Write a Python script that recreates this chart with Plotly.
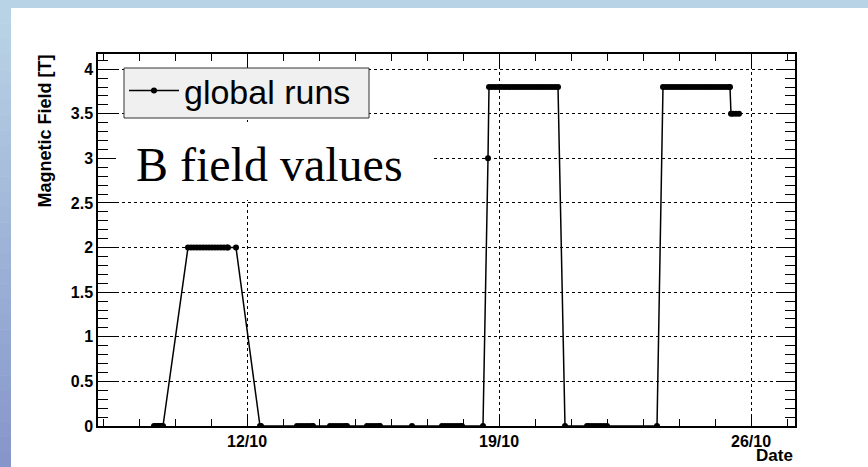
import plotly.graph_objects as go

# ---------------- data ----------------
run_times = [
    "2008-10-09 10:00", "2008-10-09 11:00", "2008-10-09 12:00", "2008-10-09 13:00",
    "2008-10-09 14:00", "2008-10-09 15:00", "2008-10-09 16:00",
    "2008-10-10 08:40", "2008-10-10 10:40", "2008-10-10 12:40", "2008-10-10 14:40",
    "2008-10-10 16:40", "2008-10-10 18:40", "2008-10-10 20:40", "2008-10-10 22:40",
    "2008-10-11 00:40", "2008-10-11 02:40", "2008-10-11 04:40", "2008-10-11 06:40",
    "2008-10-11 08:40", "2008-10-11 10:40", "2008-10-11 11:20", "2008-10-11 16:40",
    "2008-10-12 08:40", "2008-10-12 09:20",
    "2008-10-13 09:20", "2008-10-13 11:20", "2008-10-13 13:20", "2008-10-13 15:20",
    "2008-10-13 17:20", "2008-10-13 19:20", "2008-10-13 20:00",
    "2008-10-14 07:20", "2008-10-14 09:20", "2008-10-14 11:20", "2008-10-14 13:20",
    "2008-10-14 15:20", "2008-10-14 17:20", "2008-10-14 18:40",
    "2008-10-15 08:00", "2008-10-15 10:00", "2008-10-15 12:00", "2008-10-15 14:00",
    "2008-10-15 16:00", "2008-10-15 16:40",
    "2008-10-16 14:00",
    "2008-10-17 10:00", "2008-10-17 12:00", "2008-10-17 14:00", "2008-10-17 16:00",
    "2008-10-17 18:00", "2008-10-17 20:00", "2008-10-17 22:00", "2008-10-17 23:20",
    "2008-10-18 13:20", "2008-10-18 16:40",
    "2008-10-18 17:20", "2008-10-18 19:20", "2008-10-18 21:20", "2008-10-18 23:20",
    "2008-10-19 01:20", "2008-10-19 03:20", "2008-10-19 05:20", "2008-10-19 07:20",
    "2008-10-19 09:20", "2008-10-19 11:20", "2008-10-19 13:20", "2008-10-19 15:20",
    "2008-10-19 17:20", "2008-10-19 19:20", "2008-10-19 21:20", "2008-10-19 23:20",
    "2008-10-20 01:20", "2008-10-20 03:20", "2008-10-20 05:20", "2008-10-20 07:20",
    "2008-10-20 09:20", "2008-10-20 11:20", "2008-10-20 13:20", "2008-10-20 15:20",
    "2008-10-20 20:00",
    "2008-10-21 10:40", "2008-10-21 12:00", "2008-10-21 14:00", "2008-10-21 16:00",
    "2008-10-21 18:00", "2008-10-21 20:00", "2008-10-21 22:00", "2008-10-22 00:00",
    "2008-10-23 09:20",
    "2008-10-23 13:20", "2008-10-23 15:20", "2008-10-23 17:20", "2008-10-23 19:20",
    "2008-10-23 21:20", "2008-10-23 23:20", "2008-10-24 01:20", "2008-10-24 03:20",
    "2008-10-24 05:20", "2008-10-24 07:20", "2008-10-24 09:20", "2008-10-24 11:20",
    "2008-10-24 13:20", "2008-10-24 15:20", "2008-10-24 17:20", "2008-10-24 19:20",
    "2008-10-24 21:20", "2008-10-24 23:20", "2008-10-25 01:20", "2008-10-25 03:20",
    "2008-10-25 05:20", "2008-10-25 07:20", "2008-10-25 09:20", "2008-10-25 10:00",
    "2008-10-25 10:40", "2008-10-25 12:00", "2008-10-25 14:00", "2008-10-25 16:00",
]

field_tesla = [
    0, 0, 0, 0,
    0, 0, 0,
    2.0, 2.0, 2.0, 2.0,
    2.0, 2.0, 2.0, 2.0,
    2.0, 2.0, 2.0, 2.0,
    2.0, 2.0, 2.0, 2.0,
    0, 0,
    0, 0, 0, 0,
    0, 0, 0,
    0, 0, 0, 0,
    0, 0, 0,
    0, 0, 0, 0,
    0, 0,
    0,
    0, 0, 0, 0,
    0, 0, 0, 0,
    0, 3.0,
    3.8, 3.8, 3.8, 3.8,
    3.8, 3.8, 3.8, 3.8,
    3.8, 3.8, 3.8, 3.8,
    3.8, 3.8, 3.8, 3.8,
    3.8, 3.8, 3.8, 3.8,
    3.8, 3.8, 3.8, 3.8,
    0,
    0, 0, 0, 0,
    0, 0, 0, 0,
    0,
    3.8, 3.8, 3.8, 3.8,
    3.8, 3.8, 3.8, 3.8,
    3.8, 3.8, 3.8, 3.8,
    3.8, 3.8, 3.8, 3.8,
    3.8, 3.8, 3.8, 3.8,
    3.8, 3.8, 3.8, 3.8,
    3.5, 3.5, 3.5, 3.5,
]

series_name = "global runs"
x_tick_vals = ["2008-10-12", "2008-10-19", "2008-10-26"]
x_tick_text = ["12/10", "19/10", "26/10"]
x_range = ["2008-10-07 20:40", "2008-10-27 05:20"]
y_range = [0, 4.17]

# ---------------- layout geometry ----------------
W, H = 868, 467
L, R, T, B = 98, 795, 54, 426  # plot area in pixels


def px(x):
    return (x - L) / (R - L)


def py(y):
    return (B - y) / (B - T)


fig = go.Figure()
fig.add_trace(go.Scatter(
    x=run_times, y=field_tesla,
    name=series_name,
    mode="lines+markers",
    line=dict(color="black", width=1.5),
    marker=dict(color="black", size=6, symbol="circle"),
    showlegend=True,
))

shapes = []
# top blue band
shapes.append(dict(type="rect", xref="paper", yref="paper",
                   x0=px(0), x1=px(W), y0=py(8), y1=py(0),
                   fillcolor="#b9d3e6", line=dict(width=0), layer="below"))
# left gradient band (style only)
nb = 30
c0 = (185, 211, 230)
c1 = (134, 150, 202)
for i in range(nb):
    t = i / (nb - 1)
    col = "rgb(%d,%d,%d)" % tuple(round(a + (b - a) * t) for a, b in zip(c0, c1))
    y_top = 8 + (H - 8) * i / nb
    y_bot = 8 + (H - 8) * (i + 1) / nb + 0.5
    shapes.append(dict(type="rect", xref="paper", yref="paper",
                       x0=px(0), x1=px(11), y0=py(y_bot), y1=py(y_top),
                       fillcolor=col, line=dict(width=0), layer="below"))
# white box behind overlay text
shapes.append(dict(type="rect", xref="paper", yref="paper",
                   x0=px(116), x1=px(434), y0=py(200), y1=py(122),
                   fillcolor="white", line=dict(width=0), layer="above"))
# legend frame
shapes.append(dict(type="rect", xref="paper", yref="paper",
                   x0=px(124), x1=px(369), y0=py(118), y1=py(68),
                   fillcolor="#f0f0f0", line=dict(width=1, color="#333333"), layer="above"))

annotations = [
    dict(text="B field values", xref="paper", yref="paper",
         x=px(134), y=py(164), xanchor="left", yanchor="middle",
         showarrow=False,
         font=dict(family="Liberation Serif, Times New Roman, serif", size=48, color="black")),
    dict(text="<b>Magnetic Field [T]</b>", xref="paper", yref="paper",
         x=px(44), y=py(53), xanchor="center", yanchor="top", textangle=-90,
         showarrow=False,
         font=dict(family="Liberation Sans, Arial, sans-serif", size=18, color="black")),
    dict(text="<b>Date</b>", xref="paper", yref="paper",
         x=px(795), y=py(455), xanchor="right", yanchor="middle",
         showarrow=False,
         font=dict(family="Liberation Sans, Arial, sans-serif", size=17, color="black")),
]

fig.update_layout(
    width=W, height=H,
    margin=dict(l=L, r=W - R, t=T, b=H - B, pad=0),
    paper_bgcolor="white", plot_bgcolor="white",
    shapes=shapes, annotations=annotations,
    showlegend=True,
    legend=dict(x=px(124), y=py(62), xanchor="left", yanchor="top",
                bgcolor="rgba(0,0,0,0)", borderwidth=0,
                font=dict(family="Liberation Sans, Arial, sans-serif", size=34, color="black"),
                itemwidth=50),
    font=dict(family="Liberation Sans, Arial, sans-serif", color="black"),
)

fig.update_xaxes(
    type="date", range=x_range,
    tickmode="array", tickvals=x_tick_vals, ticktext=x_tick_text,
    ticks="inside", ticklen=12, tickwidth=1, tickcolor="black",
    showline=True, linecolor="black", linewidth=1.5, mirror="ticks",
    showgrid=True, gridcolor="black", gridwidth=1, griddash="dot",
    zeroline=False,
    tickfont=dict(family="Liberation Sans, Arial, sans-serif", size=16, color="black", weight="bold"),
    minor=dict(dtick=86400000, tick0="2008-10-05", ticks="inside", ticklen=7,
               tickcolor="black", tickwidth=1, showgrid=False),
)
fig.update_yaxes(
    range=y_range, dtick=0.5, tick0=0,
    ticks="inside", ticklen=19, tickwidth=1, tickcolor="black",
    showline=True, linecolor="black", linewidth=1.5, mirror="ticks",
    showgrid=True, gridcolor="black", gridwidth=1, griddash="dot",
    zeroline=False,
    tickfont=dict(family="Liberation Sans, Arial, sans-serif", size=16, color="black", weight="bold"),
    minor=dict(dtick=0.1, ticks="inside", ticklen=10, tickcolor="black",
               tickwidth=1, showgrid=False),
)

fig.write_html("out.html", config={"displayModeBar": False},
               post_script="document.body.style.margin='0';document.body.style.overflow='hidden';")
